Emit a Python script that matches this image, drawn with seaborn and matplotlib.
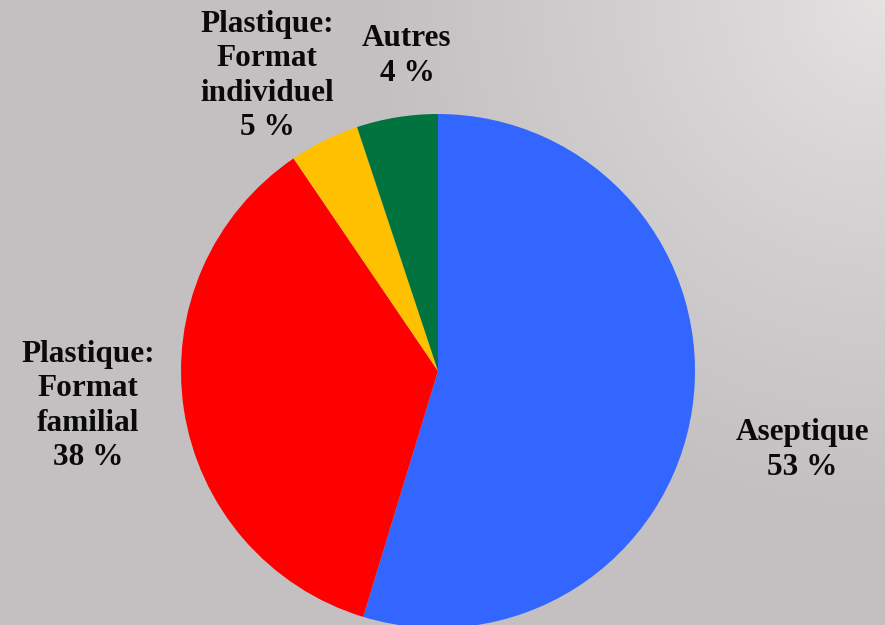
import numpy as np
import matplotlib
matplotlib.use("Agg")
import matplotlib.pyplot as plt
import seaborn as sns

# Data
categories = ["Aseptique", "Plastique: Format familial", "Plastique: Format individuel", "Autres"]
slice_values = [54.7, 35.8, 4.4, 5.1]
label_texts = ["Aseptique\n53 %", "Plastique:\nFormat\nfamilial\n38 %",
               "Plastique:\nFormat\nindividuel\n5 %", "Autres\n4 %"]
colors = ["#3366FF", "#FF0000", "#FFC000", "#00733E"]

sns.set_style("white")
plt.rcParams["font.family"] = ["Liberation Serif", "DejaVu Serif"]

W, H = 885, 625
fig = plt.figure(figsize=(W / 100, H / 100), dpi=100)

# Background gradient (lighter in top-right corner)
bg = fig.add_axes([0, 0, 1, 1], zorder=0)
yy, xx = np.mgrid[0:H, 0:W]
d = np.sqrt((xx - W) ** 2 + (yy - 0) ** 2)
t = np.clip(d / 520.0, 0, 1) ** 0.8
light = np.array([229, 228, 227]) / 255.0
dark = np.array([196, 192, 194]) / 255.0
img = light[None, None, :] * (1 - t[..., None]) + dark[None, None, :] * t[..., None]
bg.imshow(img, extent=[0, W, H, 0], aspect="auto")
bg.axis("off")

# Pie axes: center (438, 371) px, radius 257 px
cx, cy, r = 438, 371, 257
ax = fig.add_axes([(cx - r) / W, (H - cy - r) / H, 2 * r / W, 2 * r / H], zorder=1)
ax.set_facecolor("none")
ax.pie(slice_values, colors=sns.color_palette(colors), startangle=90, counterclock=False,
       radius=1, wedgeprops=dict(linewidth=0), frame=False)
ax.set_xlim(-1, 1)
ax.set_ylim(-1, 1)
ax.set_aspect("equal")
ax.axis("off")

# Label positions in pixels (center of text block)
label_px = [(802, 450), (88, 406), (267, 76), (407, 56)]
for txt, (px, py) in zip(label_texts, label_px):
    fig.text(px / W, 1 - py / H, txt, ha="center", va="center", fontsize=22.5,
             fontweight="bold", color="#0a0a0a", linespacing=1.25, zorder=3)

fig.savefig("out.png", dpi=100)
